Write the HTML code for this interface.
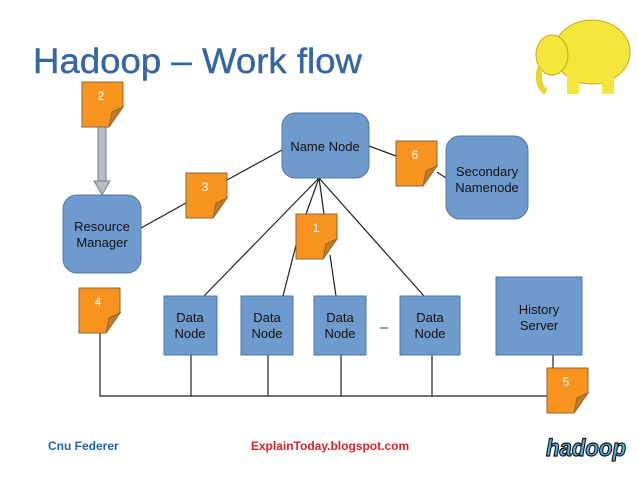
<!DOCTYPE html>
<html><head><style>
body{margin:0;background:#fff;width:638px;height:479px;overflow:hidden}
svg text{font-family:"Liberation Sans","DejaVu Sans",sans-serif}
</style></head><body>
<svg width="638" height="479" viewBox="0 0 638 479" xmlns="http://www.w3.org/2000/svg">
<defs>
<g id="note">
<polygon points="0,0 41,0 41,25 27,45 0,45" fill="#f7931e" stroke="#8a6a3a" stroke-width="1"/>
<polygon points="27,45 30,30 41,25" fill="#c87a1e" stroke="#8a6a3a" stroke-width="1"/>
</g>
</defs>
<text x="33" y="73" font-size="35" fill="#3566a0" textLength="329" lengthAdjust="spacingAndGlyphs" style="font-weight:500" stroke="#3566a0" stroke-width="0.4">Hadoop – Work flow</text>
<!-- elephant -->
<ellipse cx="592" cy="52" rx="38" ry="32" fill="#f5e63c" stroke="#c9a818"/>
<ellipse cx="552" cy="55" rx="16" ry="20" fill="#f5e63c" stroke="#c9a818"/>
<path d="M540 68 Q536 85 546 92" stroke="#e8d530" stroke-width="6" fill="none"/>
<rect x="567" y="72" width="12" height="22" fill="#f5e63c"/><rect x="602" y="72" width="12" height="22" fill="#f5e63c"/>
<!-- lines -->
<g stroke="#222" stroke-width="1.2" fill="none">
<line x1="141" y1="228" x2="186" y2="203"/>
<line x1="227" y1="180" x2="282" y2="150"/>
<line x1="369" y1="146" x2="396" y2="156"/>
<line x1="437" y1="172" x2="446" y2="178"/>
<line x1="319" y1="178" x2="204" y2="296"/>
<line x1="319" y1="178" x2="306" y2="214"/>
<line x1="319" y1="178" x2="324" y2="214"/>
<line x1="296" y1="245" x2="283" y2="296"/>
<line x1="330" y1="255" x2="336" y2="296"/>
<line x1="319" y1="178" x2="424" y2="296"/>
<polyline points="100,333 100,396 553,396 553,355"/>
<line x1="191" y1="355" x2="191" y2="396"/>
<line x1="268" y1="355" x2="268" y2="396"/>
<line x1="341" y1="355" x2="341" y2="396"/>
<line x1="432" y1="355" x2="432" y2="396"/>
</g>
<!-- grey arrow -->
<rect x="98" y="127" width="8" height="55" fill="#b8bcc4" stroke="#7a7f88"/>
<polygon points="94,181 110,181 102,195" fill="#b8bcc4" stroke="#7a7f88"/>
<!-- boxes -->
<g fill="#6e9ace" stroke="#4f77a8" stroke-width="1">
<rect x="63" y="195" width="78" height="78" rx="14"/>
<rect x="282" y="113" width="87" height="65" rx="13"/>
<rect x="446" y="136" width="82" height="83" rx="14"/>
<rect x="164" y="296" width="53" height="59"/>
<rect x="241" y="296" width="52" height="59"/>
<rect x="314" y="296" width="52" height="59"/>
<rect x="400" y="296" width="60" height="59"/>
<rect x="496" y="277" width="86" height="78"/>
</g>
<g font-size="13" fill="#111" text-anchor="middle">
<text x="102" y="231">Resource</text><text x="102" y="247">Manager</text>
<text x="325" y="151">Name Node</text>
<text x="487" y="176">Secondary</text><text x="487" y="192">Namenode</text>
<text x="190" y="322">Data</text><text x="190" y="338">Node</text>
<text x="267" y="322">Data</text><text x="267" y="338">Node</text>
<text x="340" y="322">Data</text><text x="340" y="338">Node</text>
<text x="430" y="322">Data</text><text x="430" y="338">Node</text>
<text x="539" y="314">History</text><text x="539" y="330">Server</text>
</g>
<line x1="380" y1="328" x2="388" y2="328" stroke="#555" stroke-width="1.2"/>
<!-- notes -->
<use href="#note" x="82" y="82"/>
<use href="#note" x="186" y="173"/>
<use href="#note" x="296" y="214"/>
<use href="#note" x="79" y="288"/>
<use href="#note" x="547" y="368"/>
<use href="#note" x="396" y="141"/>
<g font-size="12" fill="#fff" text-anchor="middle">
<text x="101" y="100">2</text><text x="205" y="191">3</text><text x="316" y="232">1</text>
<text x="98" y="306">4</text><text x="566" y="386">5</text><text x="415" y="159">6</text>
</g>
<text x="48" y="450" font-size="12" font-weight="bold" fill="#1a64b4">Cnu Federer</text>
<text x="330" y="450" font-size="12" font-weight="bold" fill="#e0202a" text-anchor="middle">ExplainToday.blogspot.com</text>
<text x="546" y="456" font-size="24" font-weight="bold" font-style="italic" fill="#5ab4e6" stroke="#111" stroke-width="1.2" textLength="80" lengthAdjust="spacingAndGlyphs">hadoop</text>
</svg>
</body></html>
